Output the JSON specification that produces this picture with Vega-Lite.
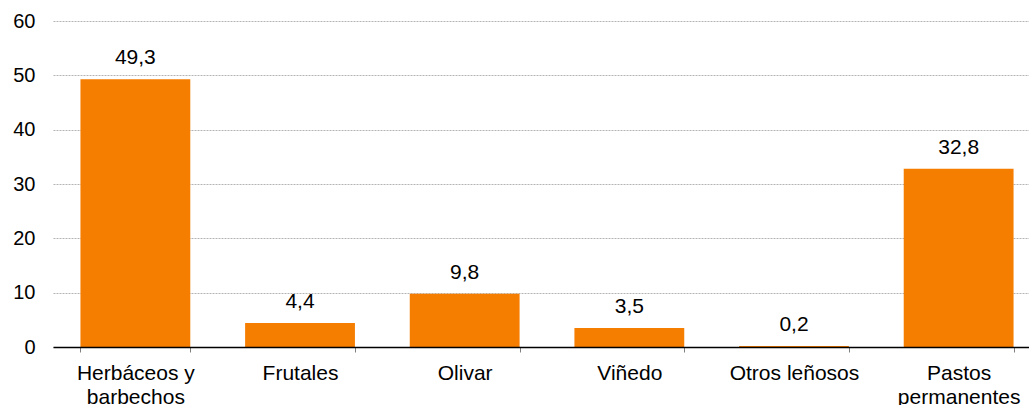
{
  "$schema": "https://vega.github.io/schema/vega-lite/v6.json",
  "autosize": "none",
  "width": 976,
  "height": 326,
  "padding": {"left": 53, "top": 21, "right": 0, "bottom": 58},
  "background": "white",
  "config": {
    "view": {"stroke": null},
    "font": "Liberation Sans",
    "locale": {"number": {"decimal": ",", "thousands": ".", "grouping": [3], "currency": ["", " €"]}}
  },
  "data": {
    "values": [
      {"cultivo": "Herbáceos y barbechos", "valor": 49.3},
      {"cultivo": "Frutales", "valor": 4.4},
      {"cultivo": "Olivar", "valor": 9.8},
      {"cultivo": "Viñedo", "valor": 3.5},
      {"cultivo": "Otros leñosos", "valor": 0.2},
      {"cultivo": "Pastos permanentes", "valor": 32.8}
    ]
  },
  "encoding": {
    "x": {
      "field": "cultivo",
      "type": "nominal",
      "sort": null,
      "title": null,
      "scale": {"range": [0, 988], "paddingInner": 0.333, "paddingOuter": 0.1667},
      "axis": {
        "labelAngle": 0,
        "labelFontSize": 21,
        "labelColor": "#000000",
        "labelPadding": 10,
        "labelLineHeight": 24,
        "labelBaseline": "top",
        "tickBand": "extent",
        "ticks": true,
        "tickSize": 5,
        "tickColor": "#808080",
        "domainColor": "#000000",
        "domainWidth": 1.5,
        "grid": false,
        "zindex": 1,
        "labelExpr": "datum.label == 'Herbáceos y barbechos' ? ['Herbáceos y', 'barbechos'] : datum.label == 'Pastos permanentes' ? ['Pastos', 'permanentes'] : datum.label"
      }
    },
    "y": {
      "field": "valor",
      "type": "quantitative",
      "title": null,
      "scale": {"domain": [0, 60], "nice": false},
      "axis": {
        "values": [0, 10, 20, 30, 40, 50, 60],
        "labelFontSize": 20,
        "labelColor": "#000000",
        "labelPadding": 18,
        "ticks": false,
        "domain": false,
        "grid": true,
        "gridColor": "#b4b4b4",
        "gridDash": [2, 1],
        "gridWidth": 1
      }
    }
  },
  "layer": [
    {
      "mark": {"type": "bar", "color": "#F57D00"}
    },
    {
      "mark": {"type": "text", "fontSize": 21, "color": "#000000", "baseline": "alphabetic", "dy": -15},
      "encoding": {
        "text": {"field": "valor", "type": "quantitative", "format": ".1f"}
      }
    }
  ]
}
